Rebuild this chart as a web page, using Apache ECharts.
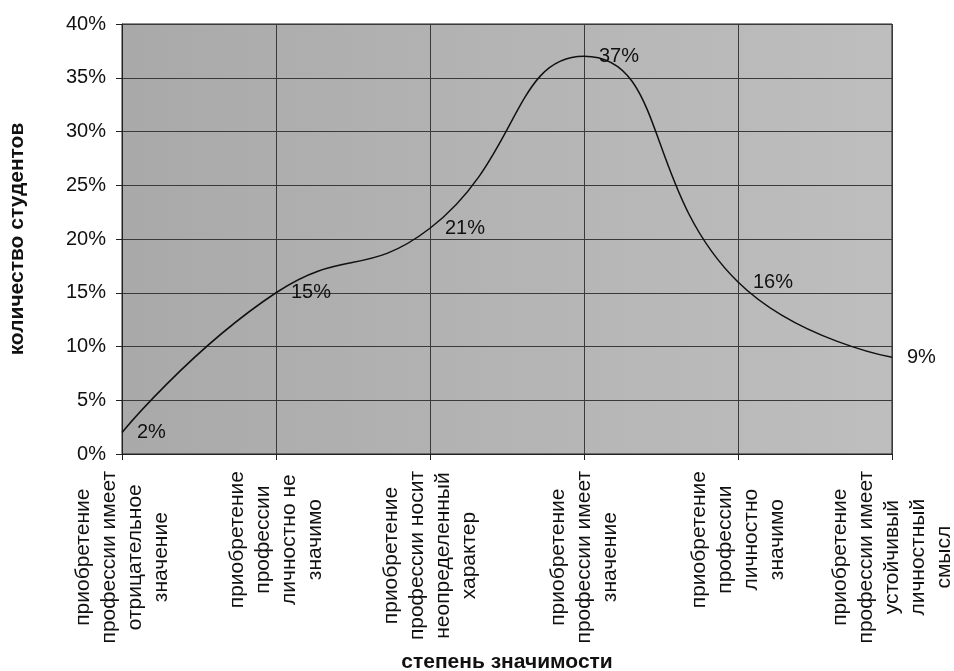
<!DOCTYPE html>
<html>
<head>
<meta charset="utf-8">
<script src="https://cdn.jsdelivr.net/npm/echarts@6/dist/echarts.min.js"></script>
<style>
html,body{margin:0;padding:0;background:#fff;}
#main{width:954px;height:671px;}
</style>
</head>
<body>
<div id="main"></div>
<script>
const categories = [
  "приобретение\nпрофессии имеет\nотрицательное\nзначение",
  "приобретение\nпрофессии\nличностно не\nзначимо",
  "приобретение\nпрофессии носит\nнеопределенный\nхарактер",
  "приобретение\nпрофессии имеет\nзначение",
  "приобретение\nпрофессии\nличностно\nзначимо",
  "приобретение\nпрофессии имеет\nустойчивый\nличностный\nсмысл"
];
const values = [2, 15, 21, 37, 16, 9];
const yTicks = { min: 0, max: 40, interval: 5 };
const yAxisName = "количество студентов";
const xAxisName = "степень значимости";

const FONT = "Liberation Sans, Arial, sans-serif";
const chart = echarts.init(document.getElementById('main'));
chart.setOption({
  backgroundColor: '#ffffff',
  textStyle: { fontFamily: FONT },
  grid: {
    left: 122, right: 62, top: 24, bottom: 217,
    containLabel: false,
    outerBoundsMode: 'none',
    show: true,
    borderColor: '#222', borderWidth: 1,
    backgroundColor: {
      type: 'linear', x: 0, y: 0, x2: 1, y2: 0,
      colorStops: [
        { offset: 0, color: '#a9a9a9' },
        { offset: 0.5, color: '#b4b4b4' },
        { offset: 1, color: '#bebebe' }
      ]
    }
  },
  xAxis: {
    type: 'category',
    data: categories,
    boundaryGap: false,
    name: xAxisName,
    nameLocation: 'middle',
    nameGap: 198,
    nameTextStyle: { fontFamily: FONT, fontSize: 21, fontWeight: 'bold', color: '#111' },
    axisLine: { lineStyle: { color: '#222', width: 1 } },
    axisTick: { show: true, length: 6, lineStyle: { color: '#222' } },
    splitLine: { show: true, lineStyle: { color: '#3a3a3a', width: 1 } },
    axisLabel: {
      rotate: 90,
      interval: 0,
      margin: 17,
      fontFamily: FONT,
      fontSize: 21,
      color: '#111',
      formatter: function (v) {
        return v.split('\n').map(function (s) { return '{c|' + s + '}'; }).join('\n');
      },
      rich: {
        c: { align: 'center', fontFamily: FONT, fontSize: 21, lineHeight: 26, color: '#111' }
      }
    }
  },
  yAxis: {
    type: 'value',
    min: yTicks.min, max: yTicks.max, interval: yTicks.interval,
    name: yAxisName,
    nameLocation: 'middle',
    nameGap: 94,
    nameRotate: 90,
    nameTextStyle: { fontFamily: FONT, fontSize: 21, fontWeight: 'bold', color: '#111' },
    axisLine: { show: true, lineStyle: { color: '#222', width: 1 } },
    axisTick: { show: true, length: 6, lineStyle: { color: '#222' } },
    splitLine: { show: true, lineStyle: { color: '#3a3a3a', width: 1 } },
    axisLabel: {
      margin: 16,
      fontFamily: FONT,
      fontSize: 20,
      color: '#111',
      formatter: '{value}%'
    }
  },
  series: [{
    type: 'line',
    data: values,
    smooth: true,
    showSymbol: true,
    symbol: 'circle',
    symbolSize: 2,
    itemStyle: { color: 'rgba(0,0,0,0)' },
    lineStyle: { color: '#111', width: 1.5 },
    label: {
      show: true,
      position: 'right',
      distance: 14,
      fontFamily: FONT,
      fontSize: 20,
      color: '#111',
      formatter: '{c}%'
    },
    labelLayout: { hideOverlap: false },
    animation: false
  }],
  animation: false
});
</script>
</body>
</html>
